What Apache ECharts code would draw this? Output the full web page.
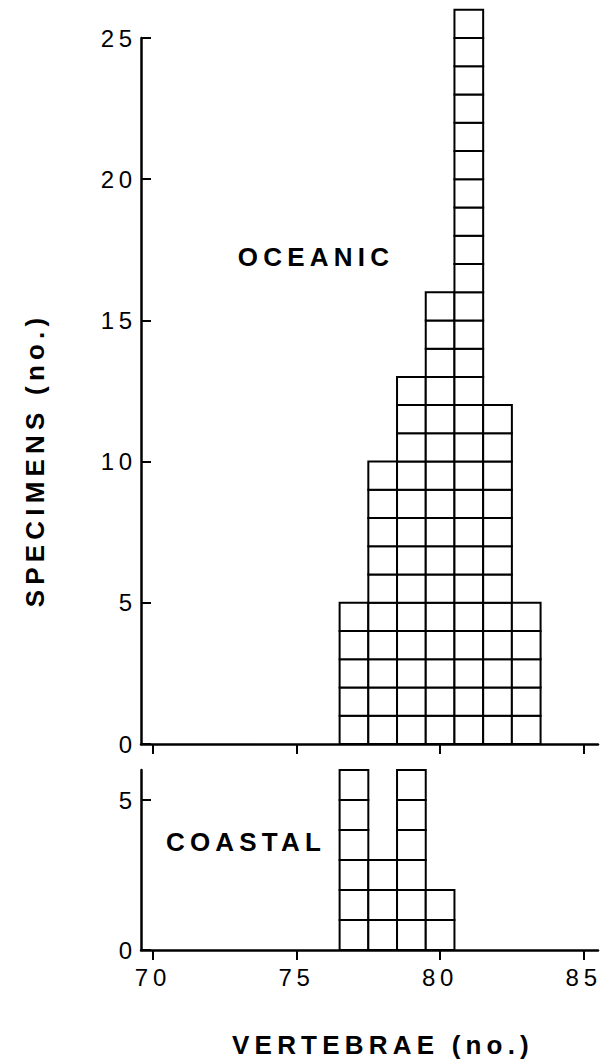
<!DOCTYPE html>
<html>
<head>
<meta charset="utf-8">
<script src="https://cdn.jsdelivr.net/npm/echarts@6/dist/echarts.min.js"></script>
<style>
  html, body { margin: 0; padding: 0; background: #fff; }
  #chart { width: 602px; height: 1063px; }
  #chart text { letter-spacing: 0.2em; }
</style>
</head>
<body>
<div id="chart"></div>
<script>
// ---- data ----
const oceanicVertebrae = [77, 78, 79, 80, 81, 82, 83];
const oceanicCounts    = [5, 10, 13, 16, 26, 12, 5];
const coastalVertebrae = [77, 78, 79, 80];
const coastalCounts    = [6, 3, 6, 2];
const xTicks = [70, 75, 80, 85];
const oceanicYTicks = [0, 5, 10, 15, 20, 25];
const coastalYTicks = [0, 5];
const oceanicLabel = 'OCEANIC';
const coastalLabel = 'COASTAL';
const xTitle = 'VERTEBRAE (no.)';
const yTitle = 'SPECIMENS (no.)';

const FONT = '"Liberation Sans", Arial, Helvetica, sans-serif';

function renderCells(params, api) {
  const x = api.value(0);
  const n = api.value(1);
  const children = [];
  for (let k = 0; k < n; k++) {
    const p0 = api.coord([x - 0.5, k]);
    const p1 = api.coord([x + 0.5, k + 1]);
    children.push({
      type: 'rect',
      shape: { x: p0[0], y: p1[1], width: p1[0] - p0[0], height: p0[1] - p1[1] },
      style: { fill: '#fff', stroke: '#000', lineWidth: 2 }
    });
  }
  return { type: 'group', children: children };
}

function xAxisCfg(gridIndex, showLabels) {
  return {
    type: 'value', gridIndex: gridIndex, min: 69.582, max: 85.5,
    axisLine: { show: true, lineStyle: { color: '#000', width: 2.5 } },
    axisTick: { show: true, inside: false, length: 10, customValues: xTicks,
                lineStyle: { color: '#000', width: 2 } },
    axisLabel: { show: showLabels, customValues: xTicks, margin: 15,
                 color: '#000', fontSize: 24, fontFamily: FONT },
    splitLine: { show: false }
  };
}
function yAxisCfg(gridIndex, max, ticks) {
  return {
    type: 'value', gridIndex: gridIndex, min: 0, max: max,
    axisLine: { show: true, lineStyle: { color: '#000', width: 2.5 } },
    axisTick: { show: true, inside: true, length: 10, customValues: ticks,
                lineStyle: { color: '#000', width: 2 } },
    axisLabel: { show: true, customValues: ticks, margin: 4,
                 color: '#000', fontSize: 24, fontFamily: FONT },
    splitLine: { show: false }
  };
}

const chart = echarts.init(document.getElementById('chart'), null, { renderer: 'svg' });
chart.setOption({
  backgroundColor: '#fff',
  animation: false,
  grid: [
    { left: 141, right: 4, top: 38, height: 706 },
    { left: 141, right: 4, top: 770, height: 180 }
  ],
  xAxis: [ xAxisCfg(0, false), xAxisCfg(1, true) ],
  yAxis: [ yAxisCfg(0, 25, oceanicYTicks), yAxisCfg(1, 6, coastalYTicks) ],
  series: [
    { type: 'custom', xAxisIndex: 0, yAxisIndex: 0, clip: false,
      renderItem: renderCells,
      data: oceanicVertebrae.map((v, i) => [v, oceanicCounts[i]]) },
    { type: 'custom', xAxisIndex: 1, yAxisIndex: 1, clip: false,
      renderItem: renderCells,
      data: coastalVertebrae.map((v, i) => [v, coastalCounts[i]]) }
  ],
  graphic: [
    { type: 'text', x: 316, y: 257, style: {
        text: oceanicLabel, font: 'bold 26px ' + FONT, fill: '#000',
        textAlign: 'center', textVerticalAlign: 'middle' } },
    { type: 'text', x: 246, y: 842, style: {
        text: coastalLabel, font: 'bold 26px ' + FONT, fill: '#000',
        textAlign: 'center', textVerticalAlign: 'middle' } },
    { type: 'text', x: 383, y: 1045, style: {
        text: xTitle, font: 'bold 26px ' + FONT, fill: '#000',
        textAlign: 'center', textVerticalAlign: 'middle' } },
    { type: 'text', x: 35, y: 460, rotation: Math.PI / 2, style: {
        text: yTitle, font: 'bold 26px ' + FONT, fill: '#000',
        textAlign: 'center', textVerticalAlign: 'middle' } }
  ]
});
</script>
</body>
</html>
